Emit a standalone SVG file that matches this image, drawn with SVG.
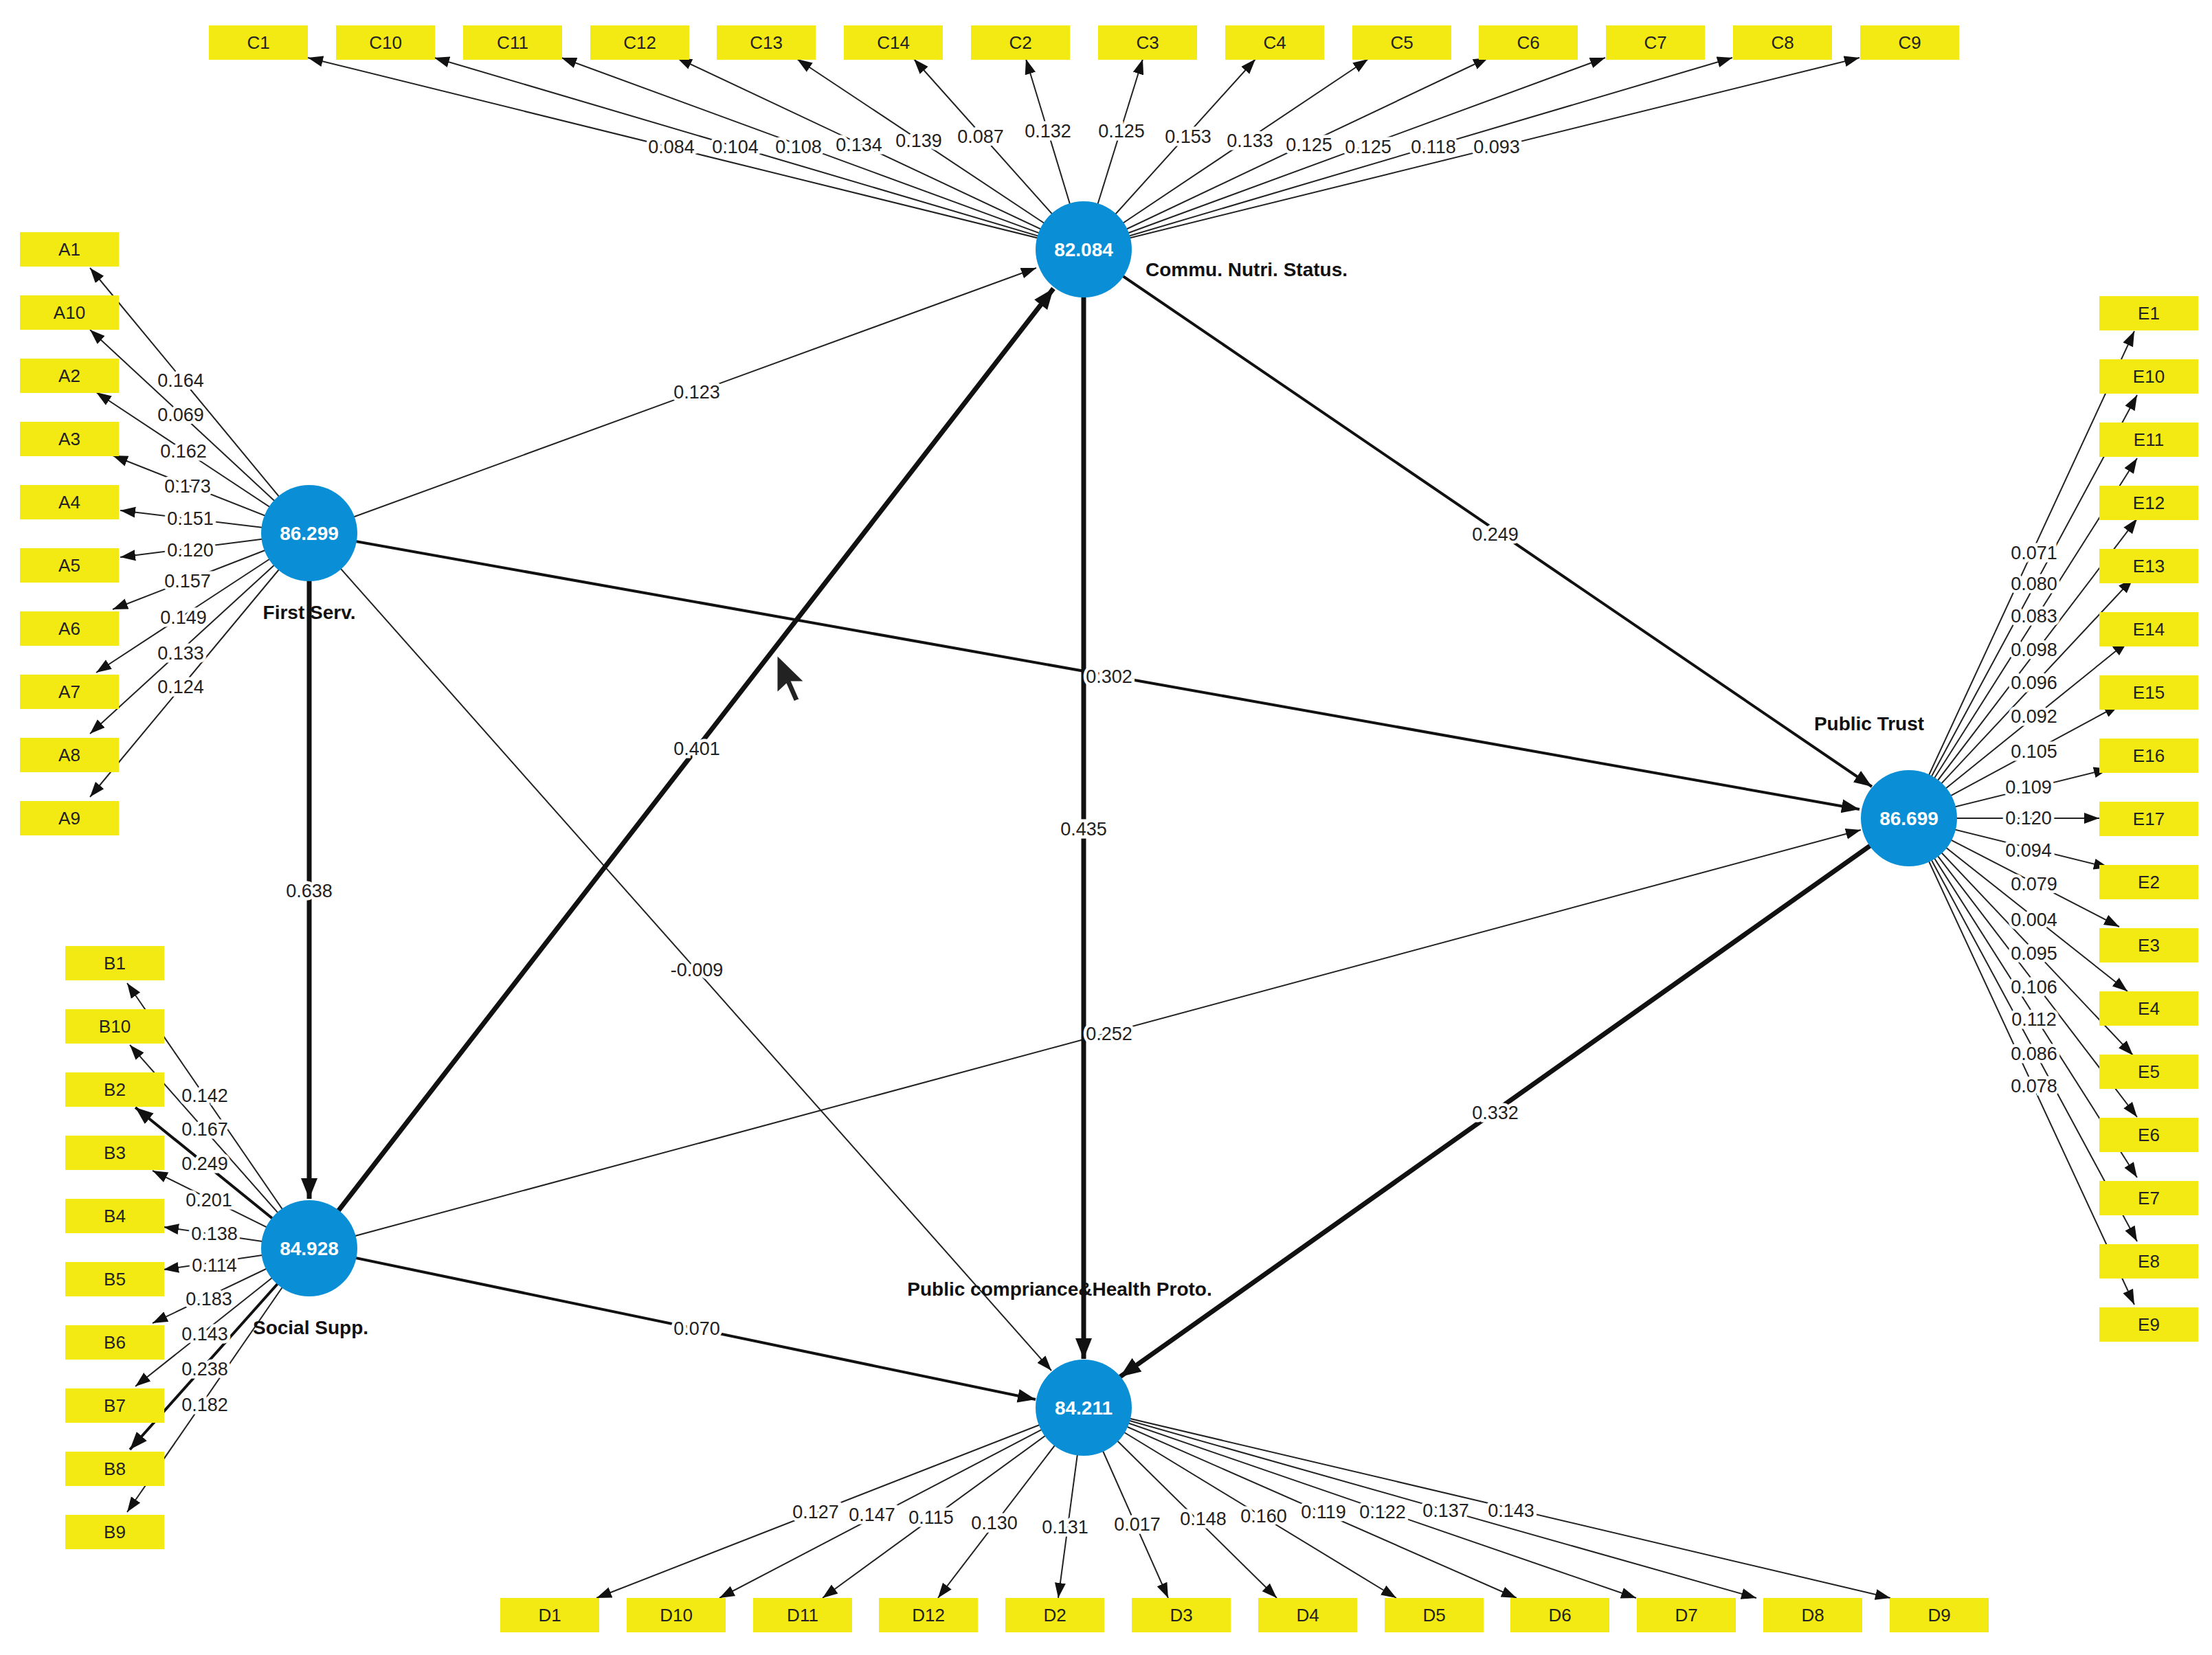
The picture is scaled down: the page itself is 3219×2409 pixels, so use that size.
<svg xmlns="http://www.w3.org/2000/svg" width="3219" height="2409" viewBox="0 0 3219 2409">
<style>
.bx{fill:#f2ea12}
.bt{font-family:"Liberation Sans",Arial,sans-serif;font-size:26px;fill:#222;text-anchor:middle;dominant-baseline:central}
.l{stroke:#222;stroke-width:2;fill:none;marker-end:url(#a)}
.m{stroke:#111;stroke-width:4;fill:none;marker-end:url(#b)}
.t{stroke:#111;stroke-width:7;fill:none;marker-end:url(#c)}
.lb{font-family:"Liberation Sans",Arial,sans-serif;font-size:27px;fill:#222;text-anchor:middle;dominant-baseline:central;stroke:#fff;stroke-width:9;paint-order:stroke}
.nd{fill:#0a8fd6}
.nv{font-family:"Liberation Sans",Arial,sans-serif;font-size:28px;font-weight:bold;fill:#fff;text-anchor:middle;dominant-baseline:central}
.nn{font-family:"Liberation Sans",Arial,sans-serif;font-size:28px;font-weight:bold;fill:#111;dominant-baseline:central}
</style>
<defs>
<marker id="a" markerUnits="userSpaceOnUse" markerWidth="24" markerHeight="20" refX="22" refY="10" orient="auto"><path d="M0,2 L22,10 L0,18 Z" fill="#111"/></marker>
<marker id="b" markerUnits="userSpaceOnUse" markerWidth="28" markerHeight="24" refX="26" refY="12" orient="auto"><path d="M0,2 L26,12 L0,22 Z" fill="#111"/></marker>
<marker id="c" markerUnits="userSpaceOnUse" markerWidth="32" markerHeight="28" refX="30" refY="14" orient="auto"><path d="M0,2 L30,14 L0,26 Z" fill="#111"/></marker>
</defs>
<g id="connectors">
<!-- C -->
<path class="l" d="M1577,363 L448,84"/><path class="l" d="M1577,363 L632,84"/><path class="l" d="M1577,363 L817,84"/><path class="l" d="M1577,363 L985,84"/><path class="l" d="M1577,363 L1160,86"/><path class="l" d="M1577,363 L1330,86"/><path class="l" d="M1577,363 L1493,86"/><path class="l" d="M1577,363 L1663,86"/><path class="l" d="M1577,363 L1827,86"/><path class="l" d="M1577,363 L1991,86"/><path class="l" d="M1577,363 L2166,84"/><path class="l" d="M1577,363 L2336,84"/><path class="l" d="M1577,363 L2521,84"/><path class="l" d="M1577,363 L2706,84"/>
<!-- A -->
<path class="l" d="M450,776 L131,390"/><path class="l" d="M450,776 L131,480"/><path class="l" d="M450,776 L140,571"/><path class="l" d="M450,776 L164,663"/><path class="l" d="M450,776 L175,743"/><path class="l" d="M450,776 L175,811"/><path class="l" d="M450,776 L164,887"/><path class="l" d="M450,776 L140,979"/><path class="l" d="M450,776 L131,1068"/><path class="l" d="M450,776 L131,1160"/>
<!-- B -->
<path class="l" d="M450,1817 L185,1431"/><path class="l" d="M450,1817 L189,1521"/><path class="m" d="M450,1817 L197,1612"/><path class="l" d="M450,1817 L222,1704"/><path class="l" d="M450,1817 L238,1786"/><path class="l" d="M450,1817 L238,1848"/><path class="l" d="M450,1817 L222,1926"/><path class="l" d="M450,1817 L197,2018"/><path class="m" d="M450,1817 L189,2110"/><path class="l" d="M450,1817 L185,2201"/>
<!-- E -->
<path class="l" d="M2778,1191 L3106,482"/><path class="l" d="M2778,1191 L3110,575"/><path class="l" d="M2778,1191 L3110,667"/><path class="l" d="M2778,1191 L3110,755"/><path class="l" d="M2778,1191 L3104,842"/><path class="l" d="M2778,1191 L3096,934"/><path class="l" d="M2778,1191 L3084,1026"/><path class="l" d="M2778,1191 L3069,1119"/><path class="l" d="M2778,1191 L3055,1191"/><path class="l" d="M2778,1191 L3069,1263"/><path class="l" d="M2778,1191 L3084,1349"/><path class="l" d="M2778,1191 L3096,1443"/><path class="l" d="M2778,1191 L3104,1536"/><path class="l" d="M2778,1191 L3110,1626"/><path class="l" d="M2778,1191 L3110,1714"/><path class="l" d="M2778,1191 L3110,1807"/><path class="l" d="M2778,1191 L3106,1899"/>
<!-- D -->
<path class="l" d="M1577,2049 L868,2326"/><path class="l" d="M1577,2049 L1047,2326"/><path class="l" d="M1577,2049 L1197,2326"/><path class="l" d="M1577,2049 L1365,2326"/><path class="l" d="M1577,2049 L1540,2326"/><path class="l" d="M1577,2049 L1700,2326"/><path class="l" d="M1577,2049 L1858,2326"/><path class="l" d="M1577,2049 L2032,2326"/><path class="l" d="M1577,2049 L2207,2326"/><path class="l" d="M1577,2049 L2381,2326"/><path class="l" d="M1577,2049 L2556,2326"/><path class="l" d="M1577,2049 L2751,2326"/>
<!-- inner -->
<path class="l" d="M450,776 L1508,390"/>
<path class="m" d="M450,776 L2706,1178"/>
<path class="t" d="M450,776 L450,1745"/>
<path class="l" d="M450,776 L1530,1995"/>
<path class="t" d="M450,1817 L1533,420"/>
<path class="l" d="M450,1817 L2708,1208"/>
<path class="m" d="M450,1817 L1507,2037"/>
<path class="t" d="M1577,363 L1577,1978"/>
<path class="m" d="M1577,363 L2724,1145"/>
<path class="t" d="M2778,1191 L1630,2004"/>
</g>
<g id="edge-labels">
<text class="lb" x="977" y="214">0.084</text><text class="lb" x="1070" y="214">0.104</text><text class="lb" x="1162" y="214">0.108</text><text class="lb" x="1250" y="211">0.134</text><text class="lb" x="1337" y="205">0.139</text><text class="lb" x="1427" y="199">0.087</text><text class="lb" x="1525" y="191">0.132</text><text class="lb" x="1632" y="191">0.125</text><text class="lb" x="1729" y="199">0.153</text><text class="lb" x="1819" y="205">0.133</text><text class="lb" x="1905" y="211">0.125</text><text class="lb" x="1991" y="214">0.125</text><text class="lb" x="2086" y="214">0.118</text><text class="lb" x="2178" y="214">0.093</text>
<text class="lb" x="263" y="554">0.164</text><text class="lb" x="263" y="604">0.069</text><text class="lb" x="267" y="657">0.162</text><text class="lb" x="273" y="708">0.173</text><text class="lb" x="277" y="755">0.151</text><text class="lb" x="277" y="801">0.120</text><text class="lb" x="273" y="846">0.157</text><text class="lb" x="267" y="899">0.149</text><text class="lb" x="263" y="951">0.133</text><text class="lb" x="263" y="1000">0.124</text>
<text class="lb" x="298" y="1595">0.142</text><text class="lb" x="298" y="1644">0.167</text><text class="lb" x="298" y="1694">0.249</text><text class="lb" x="304" y="1747">0.201</text><text class="lb" x="312" y="1796">0.138</text><text class="lb" x="312" y="1842">0.114</text><text class="lb" x="304" y="1891">0.183</text><text class="lb" x="298" y="1942">0.143</text><text class="lb" x="298" y="1993">0.238</text><text class="lb" x="298" y="2045">0.182</text>
<text class="lb" x="2960" y="805">0.071</text><text class="lb" x="2960" y="850">0.080</text><text class="lb" x="2960" y="897">0.083</text><text class="lb" x="2960" y="946">0.098</text><text class="lb" x="2960" y="994">0.096</text><text class="lb" x="2960" y="1043">0.092</text><text class="lb" x="2960" y="1094">0.105</text><text class="lb" x="2952" y="1146">0.109</text><text class="lb" x="2952" y="1191">0.120</text><text class="lb" x="2952" y="1238">0.094</text><text class="lb" x="2960" y="1287">0.079</text><text class="lb" x="2960" y="1339">0.004</text><text class="lb" x="2960" y="1388">0.095</text><text class="lb" x="2960" y="1437">0.106</text><text class="lb" x="2960" y="1484">0.112</text><text class="lb" x="2960" y="1534">0.086</text><text class="lb" x="2960" y="1581">0.078</text>
<text class="lb" x="1187" y="2201">0.127</text><text class="lb" x="1269" y="2205">0.147</text><text class="lb" x="1355" y="2209">0.115</text><text class="lb" x="1447" y="2217">0.130</text><text class="lb" x="1550" y="2223">0.131</text><text class="lb" x="1655" y="2219">0.017</text><text class="lb" x="1751" y="2211">0.148</text><text class="lb" x="1839" y="2207">0.160</text><text class="lb" x="1926" y="2201">0.119</text><text class="lb" x="2012" y="2201">0.122</text><text class="lb" x="2104" y="2199">0.137</text><text class="lb" x="2199" y="2199">0.143</text>
<text class="lb" x="1014" y="571">0.123</text><text class="lb" x="1614" y="985">0.302</text><text class="lb" x="450" y="1297">0.638</text><text class="lb" x="1014" y="1412">-0.009</text><text class="lb" x="1014" y="1090">0.401</text><text class="lb" x="1614" y="1505">0.252</text><text class="lb" x="1014" y="1934">0.070</text><text class="lb" x="1577" y="1207">0.435</text><text class="lb" x="2176" y="778">0.249</text><text class="lb" x="2176" y="1620">0.332</text>
</g>
<g id="C-boxes">
<rect class="bx" x="304" y="37" width="144" height="50"/><text class="bt" x="376" y="62">C1</text>
<rect class="bx" x="489" y="37" width="144" height="50"/><text class="bt" x="561" y="62">C10</text>
<rect class="bx" x="674" y="37" width="144" height="50"/><text class="bt" x="746" y="62">C11</text>
<rect class="bx" x="859" y="37" width="144" height="50"/><text class="bt" x="931" y="62">C12</text>
<rect class="bx" x="1043" y="37" width="144" height="50"/><text class="bt" x="1115" y="62">C13</text>
<rect class="bx" x="1228" y="37" width="144" height="50"/><text class="bt" x="1300" y="62">C14</text>
<rect class="bx" x="1413" y="37" width="144" height="50"/><text class="bt" x="1485" y="62">C2</text>
<rect class="bx" x="1598" y="37" width="144" height="50"/><text class="bt" x="1670" y="62">C3</text>
<rect class="bx" x="1783" y="37" width="144" height="50"/><text class="bt" x="1855" y="62">C4</text>
<rect class="bx" x="1968" y="37" width="144" height="50"/><text class="bt" x="2040" y="62">C5</text>
<rect class="bx" x="2152" y="37" width="144" height="50"/><text class="bt" x="2224" y="62">C6</text>
<rect class="bx" x="2337" y="37" width="144" height="50"/><text class="bt" x="2409" y="62">C7</text>
<rect class="bx" x="2522" y="37" width="144" height="50"/><text class="bt" x="2594" y="62">C8</text>
<rect class="bx" x="2707" y="37" width="144" height="50"/><text class="bt" x="2779" y="62">C9</text>
</g>
<g id="A-boxes">
<rect class="bx" x="29" y="338" width="144" height="50"/><text class="bt" x="101" y="363">A1</text>
<rect class="bx" x="29" y="430" width="144" height="50"/><text class="bt" x="101" y="455">A10</text>
<rect class="bx" x="29" y="522" width="144" height="50"/><text class="bt" x="101" y="547">A2</text>
<rect class="bx" x="29" y="614" width="144" height="50"/><text class="bt" x="101" y="639">A3</text>
<rect class="bx" x="29" y="706" width="144" height="50"/><text class="bt" x="101" y="731">A4</text>
<rect class="bx" x="29" y="798" width="144" height="50"/><text class="bt" x="101" y="823">A5</text>
<rect class="bx" x="29" y="890" width="144" height="50"/><text class="bt" x="101" y="915">A6</text>
<rect class="bx" x="29" y="982" width="144" height="50"/><text class="bt" x="101" y="1007">A7</text>
<rect class="bx" x="29" y="1074" width="144" height="50"/><text class="bt" x="101" y="1099">A8</text>
<rect class="bx" x="29" y="1166" width="144" height="50"/><text class="bt" x="101" y="1191">A9</text>
</g>
<g id="B-boxes">
<rect class="bx" x="95" y="1377" width="144" height="50"/><text class="bt" x="167" y="1402">B1</text>
<rect class="bx" x="95" y="1469" width="144" height="50"/><text class="bt" x="167" y="1494">B10</text>
<rect class="bx" x="95" y="1561" width="144" height="50"/><text class="bt" x="167" y="1586">B2</text>
<rect class="bx" x="95" y="1653" width="144" height="50"/><text class="bt" x="167" y="1678">B3</text>
<rect class="bx" x="95" y="1745" width="144" height="50"/><text class="bt" x="167" y="1770">B4</text>
<rect class="bx" x="95" y="1837" width="144" height="50"/><text class="bt" x="167" y="1862">B5</text>
<rect class="bx" x="95" y="1929" width="144" height="50"/><text class="bt" x="167" y="1954">B6</text>
<rect class="bx" x="95" y="2021" width="144" height="50"/><text class="bt" x="167" y="2046">B7</text>
<rect class="bx" x="95" y="2113" width="144" height="50"/><text class="bt" x="167" y="2138">B8</text>
<rect class="bx" x="95" y="2205" width="144" height="50"/><text class="bt" x="167" y="2230">B9</text>
</g>
<g id="E-boxes">
<rect class="bx" x="3055" y="431" width="144" height="50"/><text class="bt" x="3127" y="456">E1</text>
<rect class="bx" x="3055" y="523" width="144" height="50"/><text class="bt" x="3127" y="548">E10</text>
<rect class="bx" x="3055" y="615" width="144" height="50"/><text class="bt" x="3127" y="640">E11</text>
<rect class="bx" x="3055" y="707" width="144" height="50"/><text class="bt" x="3127" y="732">E12</text>
<rect class="bx" x="3055" y="799" width="144" height="50"/><text class="bt" x="3127" y="824">E13</text>
<rect class="bx" x="3055" y="891" width="144" height="50"/><text class="bt" x="3127" y="916">E14</text>
<rect class="bx" x="3055" y="983" width="144" height="50"/><text class="bt" x="3127" y="1008">E15</text>
<rect class="bx" x="3055" y="1075" width="144" height="50"/><text class="bt" x="3127" y="1100">E16</text>
<rect class="bx" x="3055" y="1167" width="144" height="50"/><text class="bt" x="3127" y="1192">E17</text>
<rect class="bx" x="3055" y="1259" width="144" height="50"/><text class="bt" x="3127" y="1284">E2</text>
<rect class="bx" x="3055" y="1351" width="144" height="50"/><text class="bt" x="3127" y="1376">E3</text>
<rect class="bx" x="3055" y="1443" width="144" height="50"/><text class="bt" x="3127" y="1468">E4</text>
<rect class="bx" x="3055" y="1535" width="144" height="50"/><text class="bt" x="3127" y="1560">E5</text>
<rect class="bx" x="3055" y="1627" width="144" height="50"/><text class="bt" x="3127" y="1652">E6</text>
<rect class="bx" x="3055" y="1719" width="144" height="50"/><text class="bt" x="3127" y="1744">E7</text>
<rect class="bx" x="3055" y="1811" width="144" height="50"/><text class="bt" x="3127" y="1836">E8</text>
<rect class="bx" x="3055" y="1903" width="144" height="50"/><text class="bt" x="3127" y="1928">E9</text>
</g>
<g id="D-boxes">
<rect class="bx" x="728" y="2326" width="144" height="50"/><text class="bt" x="800" y="2351">D1</text>
<rect class="bx" x="912" y="2326" width="144" height="50"/><text class="bt" x="984" y="2351">D10</text>
<rect class="bx" x="1096" y="2326" width="144" height="50"/><text class="bt" x="1168" y="2351">D11</text>
<rect class="bx" x="1279" y="2326" width="144" height="50"/><text class="bt" x="1351" y="2351">D12</text>
<rect class="bx" x="1463" y="2326" width="144" height="50"/><text class="bt" x="1535" y="2351">D2</text>
<rect class="bx" x="1647" y="2326" width="144" height="50"/><text class="bt" x="1719" y="2351">D3</text>
<rect class="bx" x="1831" y="2326" width="144" height="50"/><text class="bt" x="1903" y="2351">D4</text>
<rect class="bx" x="2015" y="2326" width="144" height="50"/><text class="bt" x="2087" y="2351">D5</text>
<rect class="bx" x="2198" y="2326" width="144" height="50"/><text class="bt" x="2270" y="2351">D6</text>
<rect class="bx" x="2382" y="2326" width="144" height="50"/><text class="bt" x="2454" y="2351">D7</text>
<rect class="bx" x="2566" y="2326" width="144" height="50"/><text class="bt" x="2638" y="2351">D8</text>
<rect class="bx" x="2750" y="2326" width="144" height="50"/><text class="bt" x="2822" y="2351">D9</text>
</g>
<g id="commu"><circle class="nd" cx="1577" cy="363" r="70"/><text class="nv" x="1577" y="363">82.084</text><text class="nn" x="1667" y="392">Commu. Nutri. Status.</text></g>
<g id="first"><circle class="nd" cx="450" cy="776" r="70"/><text class="nv" x="450" y="776">86.299</text><text class="nn" x="450" y="891" text-anchor="middle">First Serv.</text></g>
<g id="social"><circle class="nd" cx="450" cy="1817" r="70"/><text class="nv" x="450" y="1817">84.928</text><text class="nn" x="452" y="1932" text-anchor="middle">Social Supp.</text></g>
<g id="trust"><circle class="nd" cx="2778" cy="1191" r="70"/><text class="nv" x="2778" y="1191">86.699</text><text class="nn" x="2720" y="1053" text-anchor="middle">Public Trust</text></g>
<g id="comp"><circle class="nd" cx="1577" cy="2049" r="70"/><text class="nv" x="1577" y="2049">84.211</text><text class="nn" x="1542" y="1876" text-anchor="middle">Public compriance&amp;Health Proto.</text></g>
<path d="M1130,952 L1130,1010 L1144,997 L1155,1022 L1164,1018 L1153,993 L1172,993 Z" fill="#222" stroke="#fff" stroke-width="3"/>
</svg>
